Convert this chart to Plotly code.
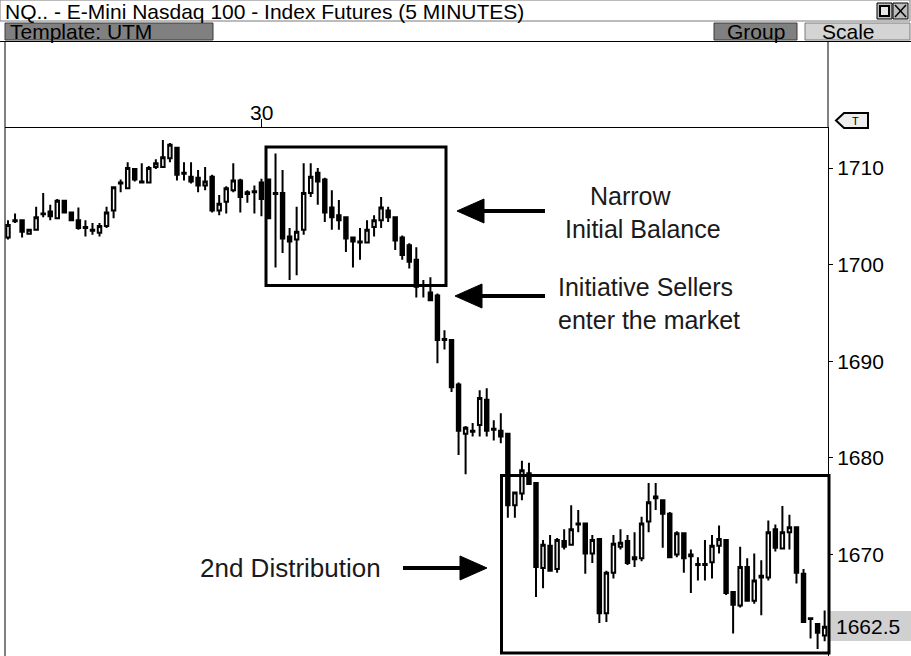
import plotly.graph_objects as go

# ---------------- data ----------------
opens = [1702.8, 1704.6, 1704.6, 1703.2, 1703.6, 1705.2, 1705.5, 1704.8, 1706.6, 1705.4,
         1704.6, 1703.9, 1703.6, 1703.3, 1704.0, 1705.6, 1708.4, 1707.9, 1709.9, 1708.6,
         1708.5, 1710.1, 1710.1, 1711.0, 1712.1, 1709.5, 1709.1, 1709.0, 1708.2, 1709.1,
         1705.6, 1706.5, 1707.7, 1708.7, 1707.3, 1707.6, 1708.5, 1708.8, 1707.4, 1707.4,
         1702.9, 1702.6, 1703.6, 1707.4, 1709.5, 1708.8, 1705.9, 1705.1, 1704.9, 1702.8,
         1702.4, 1702.3, 1703.9, 1704.6, 1705.6, 1704.9, 1702.8, 1702.0, 1700.5, 1697.9,
         1697.1, 1696.8, 1692.2, 1692.2, 1687.6, 1682.5, 1682.7, 1683.4, 1686.0, 1683.0,
         1682.8, 1682.5, 1675.1, 1676.3, 1678.4, 1677.4, 1668.6, 1670.9, 1668.5, 1671.4,
         1671.0, 1673.2, 1673.2, 1670.1, 1671.6, 1663.9, 1668.1, 1670.8, 1671.4, 1669.5,
         1669.6, 1673.4, 1676.0, 1675.6, 1674.2, 1670.0, 1672.2, 1670.0, 1669.0, 1668.9,
         1669.2, 1670.9, 1671.5, 1666.1, 1664.7, 1668.7, 1665.2, 1667.6, 1667.6, 1672.6,
         1670.6, 1672.3, 1672.8, 1668.0, 1663.4, 1662.8, 1661.6]
highs = [1704.6, 1705.3, 1704.7, 1703.7, 1706.0, 1707.4, 1706.2, 1706.8, 1706.7, 1705.5,
         1705.9, 1704.6, 1704.3, 1704.3, 1706.0, 1708.0, 1708.8, 1710.6, 1710.0, 1710.5,
         1710.2, 1710.9, 1712.9, 1712.6, 1712.2, 1710.6, 1710.6, 1709.8, 1710.1, 1709.3,
         1707.2, 1708.1, 1710.5, 1708.9, 1707.7, 1708.2, 1708.9, 1708.8, 1711.5, 1709.8,
         1703.8, 1706.0, 1710.5, 1710.5, 1710.0, 1709.0, 1707.7, 1706.7, 1704.9, 1702.8,
         1703.8, 1704.6, 1705.1, 1707.0, 1706.0, 1704.9, 1703.0, 1702.2, 1701.8, 1698.4,
         1698.7, 1697.0, 1693.2, 1692.3, 1687.8, 1683.3, 1683.6, 1687.0, 1687.2, 1683.9,
         1684.6, 1682.5, 1676.5, 1679.7, 1679.5, 1677.4, 1671.5, 1672.0, 1671.7, 1672.6,
         1675.1, 1674.6, 1673.3, 1672.0, 1671.7, 1668.3, 1672.0, 1672.6, 1672.0, 1672.3,
         1673.9, 1677.4, 1677.4, 1675.6, 1674.4, 1672.4, 1672.3, 1670.5, 1669.7, 1671.5,
         1672.0, 1673.0, 1671.6, 1666.1, 1670.8, 1669.6, 1670.1, 1669.4, 1673.5, 1673.1,
         1675.0, 1674.1, 1672.9, 1668.5, 1663.4, 1662.9, 1664.2]
lows = [1702.6, 1704.3, 1702.8, 1703.1, 1703.5, 1704.9, 1704.6, 1704.7, 1705.3, 1704.5,
        1703.6, 1702.9, 1703.1, 1702.9, 1703.8, 1704.8, 1707.5, 1707.9, 1708.6, 1708.4,
        1708.4, 1709.9, 1710.1, 1710.6, 1708.7, 1708.7, 1708.4, 1707.5, 1707.7, 1705.4,
        1705.1, 1705.3, 1707.5, 1705.4, 1706.4, 1705.3, 1705.0, 1704.7, 1699.7, 1701.2,
        1698.4, 1698.9, 1703.1, 1707.0, 1706.2, 1704.4, 1703.6, 1703.6, 1701.3, 1699.7,
        1700.5, 1702.2, 1702.9, 1703.8, 1704.4, 1701.5, 1700.5, 1699.6, 1696.6, 1696.6,
        1696.3, 1689.8, 1691.2, 1686.8, 1680.3, 1678.3, 1682.2, 1682.2, 1682.2, 1681.8,
        1681.5, 1673.8, 1673.8, 1675.6, 1677.2, 1665.6, 1666.5, 1668.3, 1668.1, 1670.5,
        1670.9, 1672.3, 1668.0, 1669.1, 1662.9, 1663.0, 1667.5, 1670.5, 1668.9, 1668.7,
        1669.3, 1672.3, 1674.6, 1670.7, 1669.6, 1669.7, 1668.1, 1666.0, 1667.3, 1667.3,
        1667.5, 1670.1, 1665.8, 1661.8, 1664.5, 1665.1, 1664.9, 1663.7, 1667.3, 1670.3,
        1670.6, 1670.5, 1667.0, 1662.9, 1661.3, 1660.2, 1661.0]
closes = [1704.1, 1704.5, 1703.4, 1703.6, 1704.9, 1705.3, 1705.0, 1706.6, 1705.4, 1704.6,
          1703.8, 1703.8, 1703.5, 1704.0, 1705.4, 1708.0, 1708.5, 1710.0, 1708.8, 1708.5,
          1710.0, 1710.5, 1711.1, 1712.4, 1709.3, 1709.4, 1708.6, 1708.2, 1708.6, 1705.6,
          1706.3, 1707.9, 1708.7, 1707.0, 1707.5, 1707.5, 1706.8, 1704.8, 1707.3, 1702.7,
          1702.4, 1703.4, 1707.4, 1709.1, 1708.6, 1705.4, 1704.9, 1704.6, 1702.7, 1702.4,
          1702.3, 1703.6, 1704.6, 1705.9, 1704.9, 1702.5, 1701.0, 1700.3, 1697.7, 1697.8,
          1696.3, 1692.2, 1692.3, 1687.3, 1682.8, 1683.1, 1682.8, 1686.2, 1682.8, 1682.9,
          1682.2, 1675.1, 1676.4, 1678.7, 1677.3, 1668.7, 1671.0, 1668.3, 1671.5, 1670.8,
          1672.6, 1673.1, 1670.1, 1671.5, 1663.9, 1668.1, 1671.1, 1671.2, 1669.1, 1669.7,
          1673.2, 1675.4, 1675.8, 1674.2, 1669.7, 1672.2, 1669.6, 1669.8, 1668.9, 1669.0,
          1670.9, 1671.6, 1666.0, 1664.8, 1668.7, 1665.2, 1667.3, 1667.8, 1672.3, 1670.7,
          1672.3, 1672.8, 1668.1, 1663.0, 1663.3, 1661.9, 1662.5]
bar_index = list(range(len(opens)))

price_ticks = [1670, 1680, 1690, 1700, 1710]
session_tick_index = [36]
session_tick_label = ["30"]
last_price = 1662.5

title_text = "NQ.. - E-Mini Nasdaq 100 - Index Futures (5 MINUTES)"

# ---------------- layout geometry (pixels) ----------------
W, H = 911, 656
PL, PR, PT, PB = 5, 828, 128, 656
FONT = "Liberation Sans, Arial, sans-serif"


def px(x):
    return (x - PL) / (PR - PL)


def py(y):
    return (PB - y) / (PB - PT)


fig = go.Figure()
fig.add_trace(go.Candlestick(
    x=bar_index, open=opens, high=highs, low=lows, close=closes,
    increasing=dict(line=dict(color="black", width=2), fillcolor="white"),
    decreasing=dict(line=dict(color="black", width=2), fillcolor="black"),
    whiskerwidth=0, showlegend=False, hoverinfo="skip",
))

shapes = []
annos = []


def rect(x0, y0, x1, y1, fill="rgba(0,0,0,0)", line="black", lw=1, layer="above"):
    shapes.append(dict(type="rect", xref="paper", yref="paper",
                       x0=px(x0), x1=px(x1), y0=py(y1), y1=py(y0),
                       fillcolor=fill, line=dict(color=line, width=lw), layer=layer))


def line(x0, y0, x1, y1, color="black", lw=1):
    shapes.append(dict(type="line", xref="paper", yref="paper",
                       x0=px(x0), x1=px(x1), y0=py(y0), y1=py(y1),
                       line=dict(color=color, width=lw)))


def poly(pts, fill="black", line_color="black", lw=1):
    d = "M " + " L ".join(f"{px(a):.5f},{py(b):.5f}" for a, b in pts) + " Z"
    shapes.append(dict(type="path", xref="paper", yref="paper", path=d,
                       fillcolor=fill, line=dict(color=line_color, width=lw)))


def text(x, y, s, size, anchor="left", color="black", family=FONT, xref="paper"):
    annos.append(dict(xref=xref, yref="paper", x=(px(x) if xref == "paper" else x), y=py(y),
                      text=s, showarrow=False, xanchor=anchor, yanchor="middle",
                      font=dict(family=family, size=size, color=color)))


# title bar
rect(0, 0, 910, 21, fill="white", line="#7a7a7a", lw=1, layer="below")
text(3, 11.5, title_text, 21)
rect(877, 3, 892, 19, fill="#bdbdbd", line="black", lw=1)
rect(880, 6, 889, 16, fill="#e8e8e8", line="black", lw=2)
rect(893, 3, 908, 19, fill="#bdbdbd", line="black", lw=1)
line(895, 5, 906, 17, lw=1.5)
line(906, 5, 895, 17, lw=1.5)

# toolbar row
rect(5, 23, 213, 40, fill="#808080", line="#3a3a3a", lw=1)
text(8, 32, "Template: UTM", 21)
rect(714, 23, 797, 40, fill="#808080", line="#3a3a3a", lw=1)
text(755.5, 32, "Group", 21, anchor="center")
rect(805, 23, 910, 40, fill="#d4d4d4", line="#7a7a7a", lw=1)
text(848, 32, "Scale", 21, anchor="center")

# chart frame
line(0, 41.5, 911, 41.5, lw=1)
line(5, 41, 5, 656, lw=1)
line(828, 41, 828, 128, lw=1)

# "T" tag
poly([(836, 120.5), (844, 113), (868, 113), (868, 128), (844, 128)],
     fill="#eeeeee", line_color="black", lw=2)
text(855, 120.5, "T", 11, anchor="center")

# session label above the time axis
text(session_tick_index[0], 112, session_tick_label[0], 21, anchor="center", xref="x")

# last price tag
rect(829, 611, 911, 641, fill="#d0d0d0", line="#d0d0d0", lw=0)
text(834, 626, f"{last_price:.1f}", 21)

# boxes
rect(266, 147, 446, 285.5, lw=3)
rect(501.5, 475.5, 829, 653, lw=3)


def arrow_left(tip_x, y, base_x, tail_x):
    line(base_x - 2, y, tail_x, y, lw=4)
    poly([(tip_x, y), (base_x, y - 12), (base_x, y + 12)])


def arrow_right(tip_x, y, base_x, tail_x):
    line(tail_x, y, base_x + 2, y, lw=4)
    poly([(tip_x, y), (base_x, y - 12), (base_x, y + 12)])


arrow_left(457, 211, 484, 545)
arrow_left(455, 296, 482, 545)
arrow_right(487, 568, 460, 403)

# annotation texts
tc = "#1a1a1a"
text(631, 196, "Narrow", 25, anchor="center", color=tc)
text(643, 229, "Initial Balance", 25, anchor="center", color=tc)
text(645, 287, "Initiative Sellers", 25, anchor="center", color=tc)
text(649, 320, "enter the market", 25, anchor="center", color=tc)
text(290, 568, "2nd Distribution", 26, anchor="center", color=tc)

x_lo = -(8 - PL) / 7.04
x_hi = (PR - 8) / 7.04
y_hi = 1710 + (168 - PT) / 9.66
y_lo = 1710 - (PB - 168) / 9.66

fig.update_layout(
    width=W, height=H,
    margin=dict(l=PL, r=W - PR, t=PT, b=H - PB, pad=0),
    paper_bgcolor="white", plot_bgcolor="white",
    template="none",
    boxgap=0.3,
    showlegend=False,
    shapes=shapes, annotations=annos,
    xaxis=dict(range=[x_lo, x_hi], side="top", showline=True, linecolor="black", linewidth=1,
               ticks="outside", ticklen=8, tickcolor="black", tickwidth=1,
               tickvals=session_tick_index, showticklabels=False,
               showgrid=False, zeroline=False, rangeslider=dict(visible=False), fixedrange=True),
    yaxis=dict(range=[y_lo, y_hi], side="right", showline=True, linecolor="black", linewidth=1,
               ticks="outside", ticklen=4, tickcolor="black", tickwidth=1,
               tickvals=price_ticks, ticktext=[str(v) for v in price_ticks],
               tickfont=dict(family=FONT, size=21, color="black"),
               showgrid=False, zeroline=False, fixedrange=True),
)

fig.write_html("out.html", include_plotlyjs=True, config={"displayModeBar": False},
               post_script="document.body.style.margin='0';document.body.style.overflow='hidden';")
